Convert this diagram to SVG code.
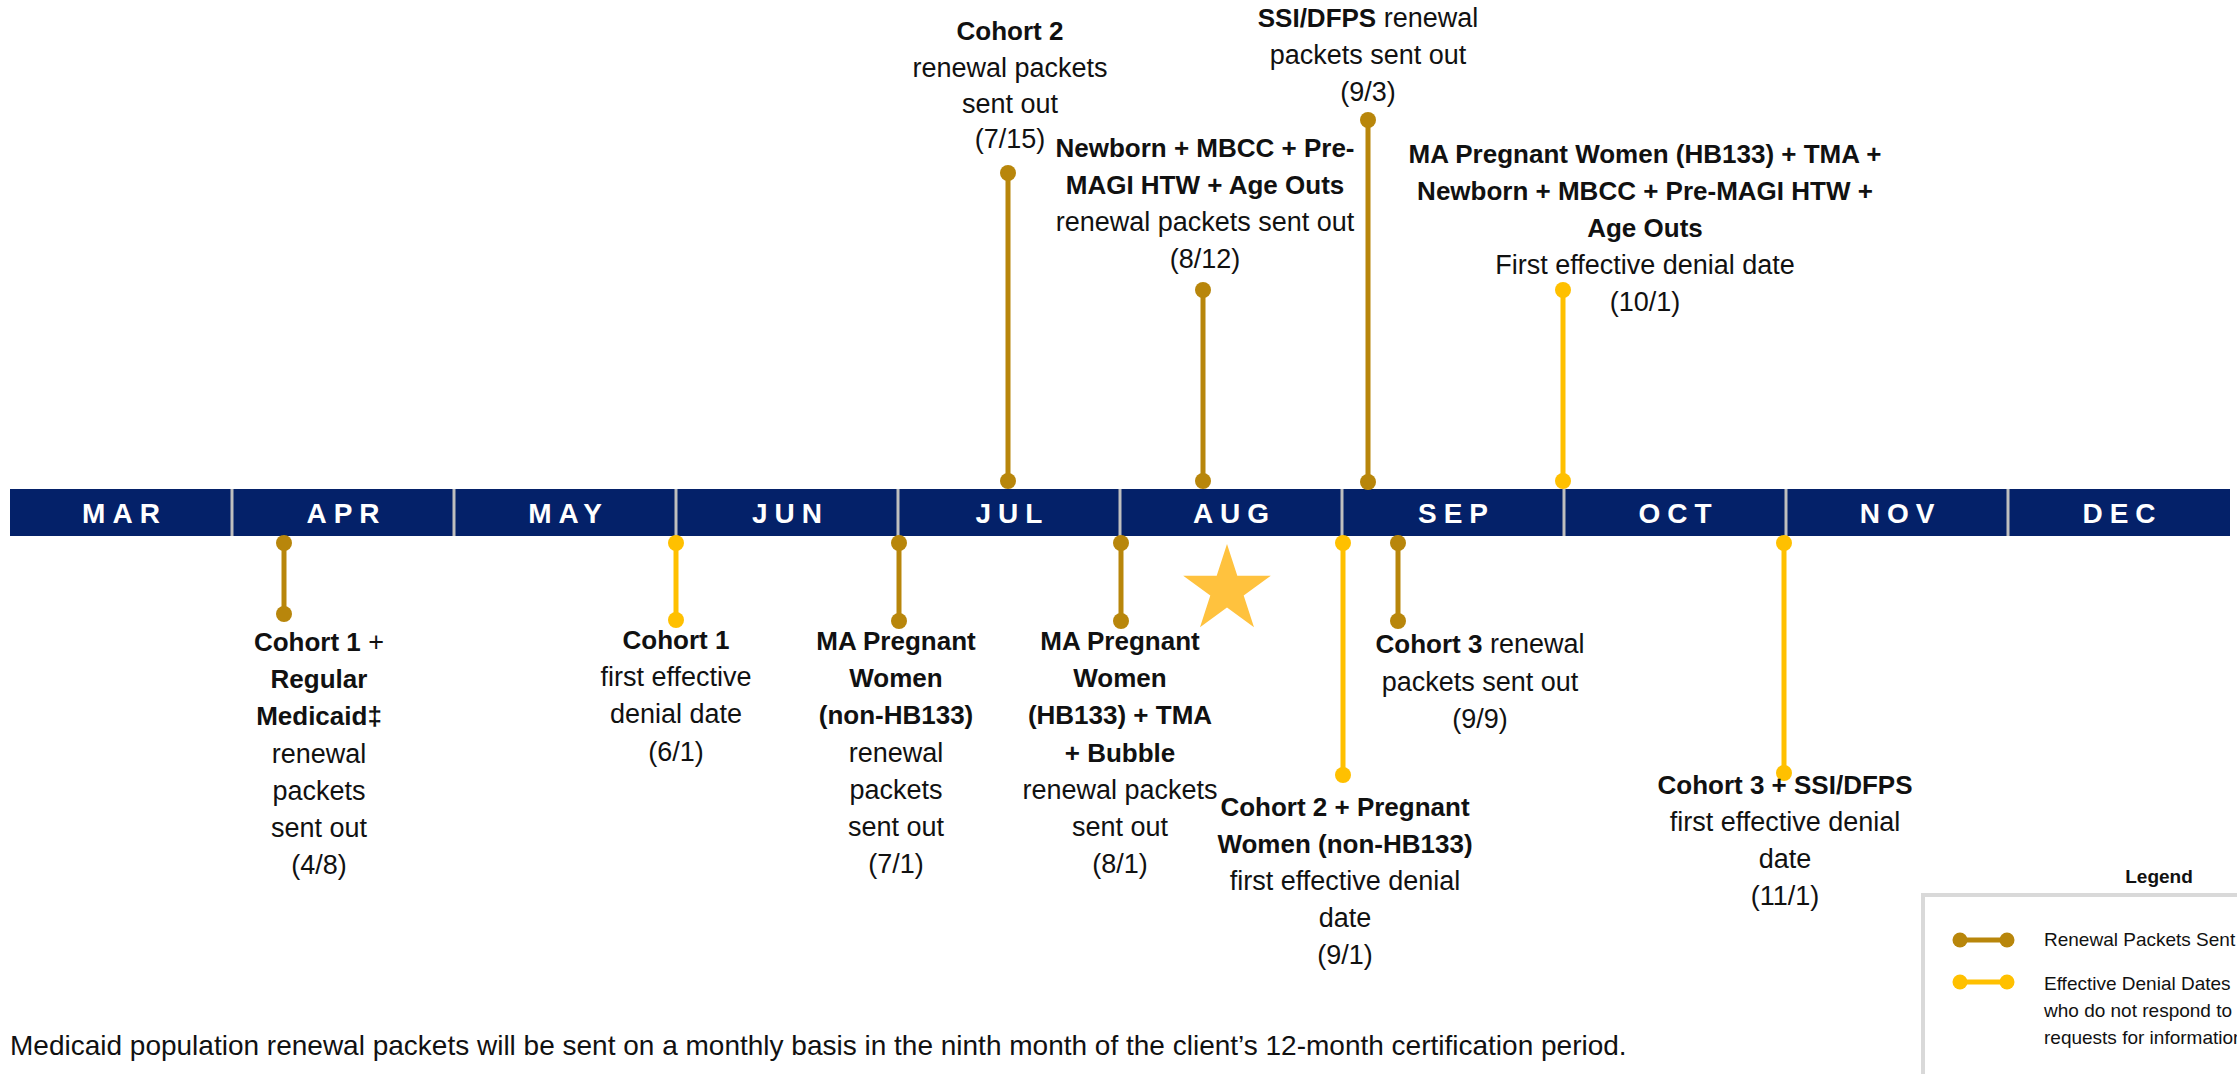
<svg xmlns="http://www.w3.org/2000/svg" width="2237" height="1074" viewBox="0 0 2237 1074">
<style>
.t{font-family:"Liberation Sans",Arial,sans-serif;font-size:27px;fill:#111;text-anchor:middle}
.s{text-anchor:start;font-size:28px}
.b{font-weight:bold;font-size:26px}
.m{font-family:"Liberation Sans",Arial,sans-serif;font-size:28px;font-weight:bold;fill:#fff;letter-spacing:7px;text-anchor:middle}
.div{stroke:#BFBFBF;stroke-width:3}
.br{stroke:#B8860B;stroke-width:5}
.ye{stroke:#FFC000;stroke-width:5}
.dbr{fill:#B8860B}
.dye{fill:#FFC000}
.lg{font-family:"Liberation Sans",Arial,sans-serif;font-size:19px;fill:#111}
</style>
<rect width="2237" height="1074" fill="#fff"/>
<g id="timeline">
<rect x="10" y="489" width="2220" height="47" fill="#042169"/>
<g class="div">
<line x1="232" y1="489" x2="232" y2="536"/><line x1="454" y1="489" x2="454" y2="536"/><line x1="676" y1="489" x2="676" y2="536"/><line x1="898" y1="489" x2="898" y2="536"/><line x1="1120" y1="489" x2="1120" y2="536"/><line x1="1342" y1="489" x2="1342" y2="536"/><line x1="1564" y1="489" x2="1564" y2="536"/><line x1="1786" y1="489" x2="1786" y2="536"/><line x1="2008" y1="489" x2="2008" y2="536"/>
</g>
<text class="m" x="124.5" y="523">MAR</text>
<text class="m" x="346.5" y="523">APR</text>
<text class="m" x="568.5" y="523">MAY</text>
<text class="m" x="790.5" y="523">JUN</text>
<text class="m" x="1012.5" y="523">JUL</text>
<text class="m" x="1234.5" y="523">AUG</text>
<text class="m" x="1456.5" y="523">SEP</text>
<text class="m" x="1678.5" y="523">OCT</text>
<text class="m" x="1900.5" y="523">NOV</text>
<text class="m" x="2122.5" y="523">DEC</text>
</g>
<g id="connectors">
<line class="br" x1="1008" y1="173" x2="1008" y2="481"/>
<line class="br" x1="1203" y1="290" x2="1203" y2="481"/>
<line class="br" x1="1368" y1="120" x2="1368" y2="482"/>
<line class="ye" x1="1563" y1="290" x2="1563" y2="481"/>
<line class="br" x1="284" y1="543" x2="284" y2="614"/>
<line class="ye" x1="676" y1="543" x2="676" y2="620"/>
<line class="br" x1="899" y1="543" x2="899" y2="621"/>
<line class="br" x1="1121" y1="543" x2="1121" y2="621"/>
<line class="ye" x1="1343" y1="543" x2="1343" y2="775"/>
<line class="br" x1="1398" y1="543" x2="1398" y2="621"/>
<line class="ye" x1="1784" y1="543" x2="1784" y2="773"/>
<g class="dbr">
<circle cx="1008" cy="173" r="8"/><circle cx="1008" cy="481" r="8"/>
<circle cx="1203" cy="290" r="8"/><circle cx="1203" cy="481" r="8"/>
<circle cx="1368" cy="120" r="8"/><circle cx="1368" cy="482" r="8"/>
<circle cx="284" cy="543" r="8"/><circle cx="284" cy="614" r="8"/>
<circle cx="899" cy="543" r="8"/><circle cx="899" cy="621" r="8"/>
<circle cx="1121" cy="543" r="8"/><circle cx="1121" cy="621" r="8"/>
<circle cx="1398" cy="543" r="8"/><circle cx="1398" cy="621" r="8"/>
</g>
<g class="dye">
<circle cx="1563" cy="290" r="8"/><circle cx="1563" cy="481" r="8"/>
<circle cx="676" cy="543" r="8"/><circle cx="676" cy="620" r="8"/>
<circle cx="1343" cy="543" r="8"/><circle cx="1343" cy="775" r="8"/>
<circle cx="1784" cy="543" r="8"/><circle cx="1784" cy="773" r="8"/>
</g>
</g>
<g id="star">
<path d="M1227,544 L1237.3,575.8 L1270.8,575.8 L1243.7,595.4 L1254,627.2 L1227,607.6 L1200,627.2 L1210.3,595.4 L1183.2,575.8 L1216.7,575.8 Z" fill="#FFC23E"/>
</g>
<g id="n-cohort2-renewal">
<text class="t"><tspan class="b" x="1010" y="40">Cohort 2</tspan><tspan x="1010" y="76.5">renewal packets</tspan><tspan x="1010" y="113">sent out</tspan><tspan x="1010" y="148">(7/15)</tspan></text>
</g>
<g id="n-newborn-renewal">
<text class="t"><tspan class="b" x="1205" y="157">Newborn + MBCC + Pre-</tspan><tspan class="b" x="1205" y="194">MAGI HTW + Age Outs</tspan><tspan x="1205" y="231">renewal packets sent out</tspan><tspan x="1205" y="268">(8/12)</tspan></text>
</g>
<g id="n-ssi-renewal">
<text class="t" x="1368" y="27"><tspan class="b">SSI/DFPS</tspan> renewal</text>
<text class="t"><tspan x="1368" y="64">packets sent out</tspan><tspan x="1368" y="101">(9/3)</tspan></text>
</g>
<g id="n-ma-hb133-denial">
<text class="t"><tspan class="b" x="1645" y="163">MA Pregnant Women (HB133) + TMA +</tspan><tspan class="b" x="1645" y="200">Newborn + MBCC + Pre-MAGI HTW +</tspan><tspan class="b" x="1645" y="237">Age Outs</tspan><tspan x="1645" y="274">First effective denial date</tspan><tspan x="1645" y="311">(10/1)</tspan></text>
</g>
<g id="n-cohort1-renewal">
<text class="t" x="319" y="650.5"><tspan class="b">Cohort 1</tspan> +</text>
<text class="t"><tspan class="b" x="319" y="688">Regular</tspan><tspan class="b" x="319" y="725">Medicaid‡</tspan><tspan x="319" y="762.5">renewal</tspan><tspan x="319" y="800">packets</tspan><tspan x="319" y="837">sent out</tspan><tspan x="319" y="874">(4/8)</tspan></text>
</g>
<g id="n-cohort1-denial">
<text class="t"><tspan class="b" x="676" y="648.5">Cohort 1</tspan><tspan x="676" y="686">first effective</tspan><tspan x="676" y="723">denial date</tspan><tspan x="676" y="760.5">(6/1)</tspan></text>
</g>
<g id="n-ma-nonhb133-renewal">
<text class="t"><tspan class="b" x="896" y="650">MA Pregnant</tspan><tspan class="b" x="896" y="687.2">Women</tspan><tspan class="b" x="896" y="724.4">(non-HB133)</tspan><tspan x="896" y="761.6">renewal</tspan><tspan x="896" y="798.8">packets</tspan><tspan x="896" y="836">sent out</tspan><tspan x="896" y="873.2">(7/1)</tspan></text>
</g>
<g id="n-ma-hb133-renewal">
<text class="t"><tspan class="b" x="1120" y="650">MA Pregnant</tspan><tspan class="b" x="1120" y="687.2">Women</tspan><tspan class="b" x="1120" y="724.4">(HB133) + TMA</tspan><tspan class="b" x="1120" y="761.6">+ Bubble</tspan><tspan x="1120" y="798.8">renewal packets</tspan><tspan x="1120" y="836">sent out</tspan><tspan x="1120" y="873.2">(8/1)</tspan></text>
</g>
<g id="n-cohort2-denial">
<text class="t"><tspan class="b" x="1345" y="816">Cohort 2 + Pregnant</tspan><tspan class="b" x="1345" y="853">Women (non-HB133)</tspan><tspan x="1345" y="890">first effective denial</tspan><tspan x="1345" y="927">date</tspan><tspan x="1345" y="964">(9/1)</tspan></text>
</g>
<g id="n-cohort3-renewal">
<text class="t" x="1480" y="653"><tspan class="b">Cohort 3</tspan> renewal</text>
<text class="t"><tspan x="1480" y="690.5">packets sent out</tspan><tspan x="1480" y="728">(9/9)</tspan></text>
</g>
<g id="n-cohort3-denial">
<text class="t"><tspan class="b" x="1785" y="794">Cohort 3 + SSI/DFPS</tspan><tspan x="1785" y="831">first effective denial</tspan><tspan x="1785" y="868">date</tspan><tspan x="1785" y="905">(11/1)</tspan></text>
</g>
<g id="legend">
<text class="lg" x="2159" y="883" text-anchor="middle" font-weight="bold" font-size="21">Legend</text>
<rect x="1923" y="895" width="400" height="300" fill="none" stroke="#D9D9D9" stroke-width="4"/>
<line class="br" x1="1960" y1="940" x2="2007" y2="940" stroke-width="4"/>
<circle class="dbr" cx="1960" cy="940" r="7.5"/><circle class="dbr" cx="2007" cy="940" r="7.5"/>
<text class="lg" x="2044" y="946">Renewal Packets Sent</text>
<line class="ye" x1="1960" y1="982" x2="2007" y2="982" stroke-width="4"/>
<circle class="dye" cx="1960" cy="982" r="7.5"/><circle class="dye" cx="2007" cy="982" r="7.5"/>
<text class="lg"><tspan x="2044" y="990">Effective Denial Dates</tspan><tspan x="2044" y="1017">who do not respond to</tspan><tspan x="2044" y="1044">requests for information</tspan></text>
</g>
<g id="footer">
<text class="t s" x="10" y="1055">Medicaid population renewal packets will be sent on a monthly basis in the ninth month of the client’s 12-month certification period.</text>
</g>
</svg>
